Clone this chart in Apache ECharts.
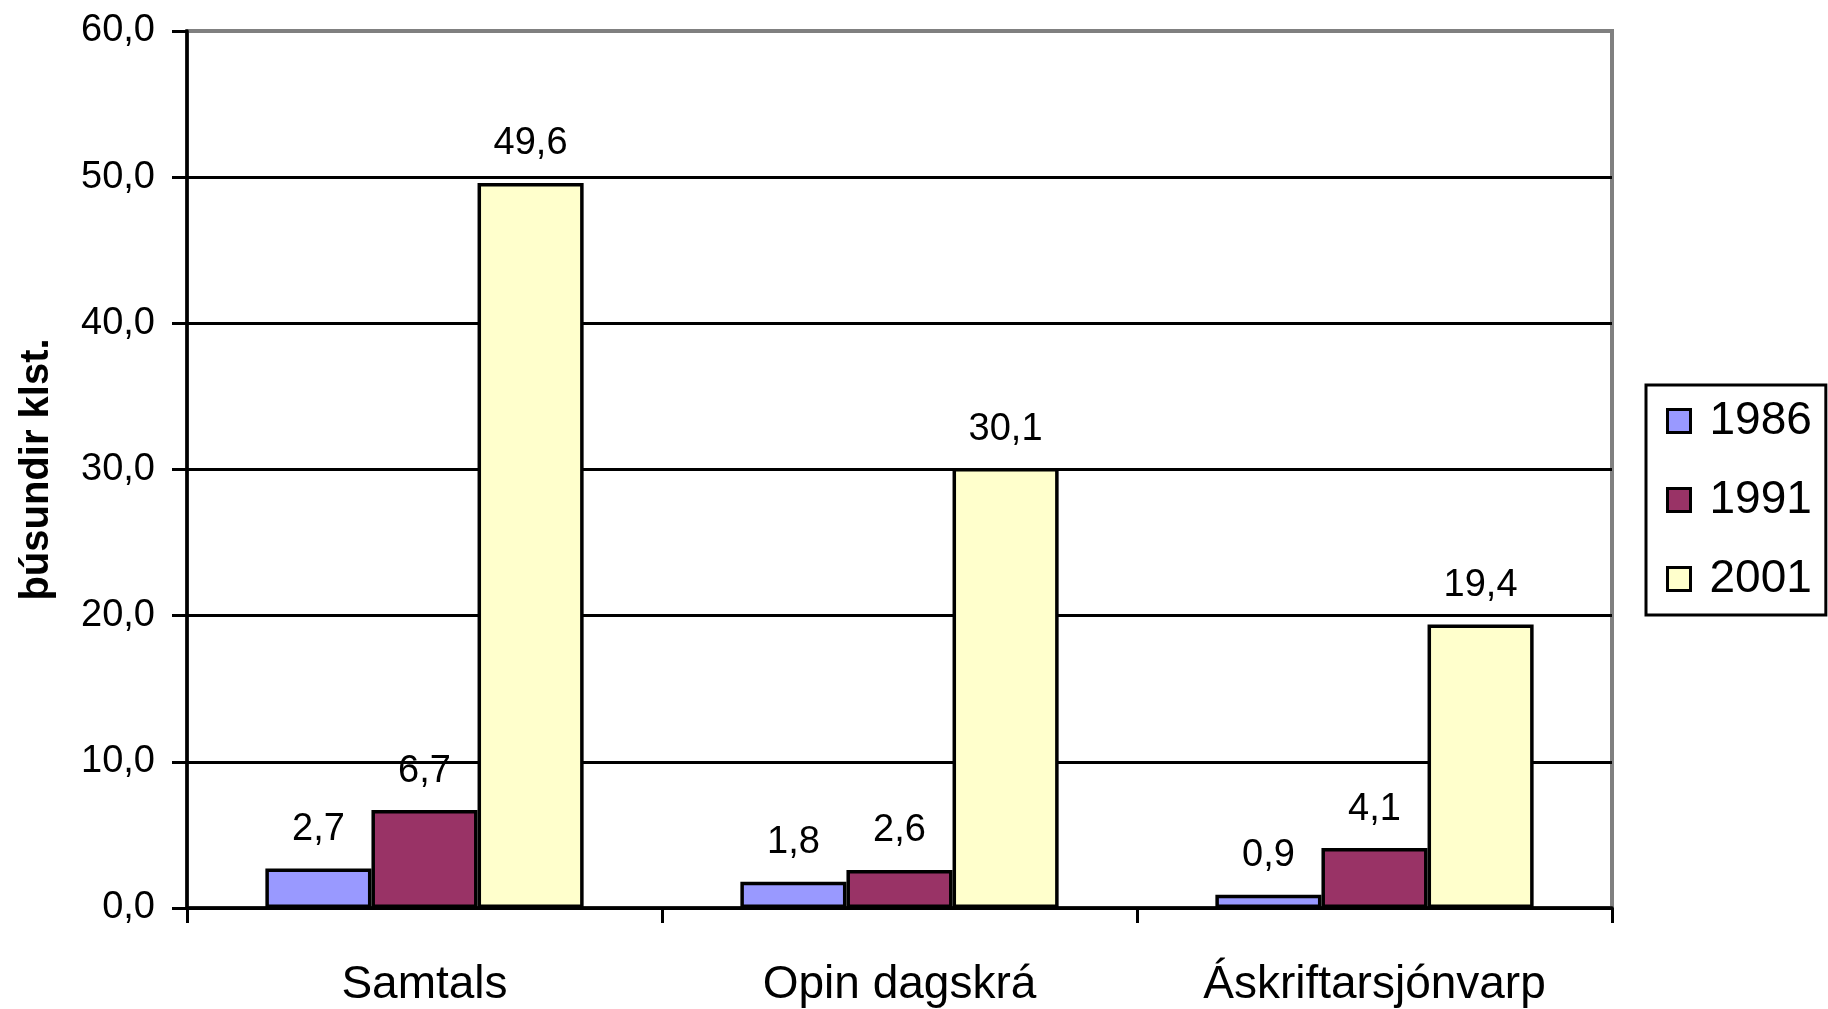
<!DOCTYPE html>
<html>
<head>
<meta charset="utf-8">
<script src="https://cdn.jsdelivr.net/npm/echarts@6/dist/echarts.min.js"></script>
<style>
  html, body { margin: 0; padding: 0; background: #fff; }
  #main { width: 1828px; height: 1009px; }
</style>
</head>
<body>
<div id="main"></div>
<script>
var categories = ['Samtals', 'Opin dagskrá', 'Áskriftarsjónvarp'];
var years = ['1986', '1991', '2001'];
var values1986 = [2.7, 1.8, 0.9];
var values1991 = [6.7, 2.6, 4.1];
var values2001 = [49.6, 30.1, 19.4];
var colors = ['#9999FF', '#993366', '#FFFFCC'];

var font = '"Liberation Sans", Arial, sans-serif';
function comma(v) { return v.toFixed(1).replace('.', ','); }

var myChart = echarts.init(document.getElementById('main'));

function makeSeries(name, data, color) {
    return {
        name: name,
        type: 'bar',
        data: data,
        barGap: '0%',
        barCategoryGap: '33%',
        itemStyle: { color: color, borderColor: '#000', borderWidth: 3.5 },
        label: {
            show: true,
            position: 'top',
            distance: 20,
            fontFamily: font,
            fontSize: 38,
            color: '#000',
            formatter: function (p) { return comma(p.value); }
        }
    };
}

var option = {
    animation: false,
    grid: {
        left: 187, right: 216, top: 31, bottom: 101,
        show: true,
        borderColor: '#808080',
        borderWidth: 4
    },
    legend: {
        orient: 'vertical',
        left: 1646,
        top: 385,
        padding: [13, 14, 13, 20],
        itemGap: 33,
        itemWidth: 23,
        itemHeight: 23,
        icon: 'rect',
        borderColor: '#000',
        borderWidth: 3,
        data: years,
        itemStyle: { borderColor: '#000', borderWidth: 3 },
        textStyle: { fontFamily: font, fontSize: 46, color: '#000', padding: [0, 0, 0, 14] }
    },
    xAxis: {
        type: 'category',
        data: categories,
        axisLine: { lineStyle: { color: '#000', width: 3.5 } },
        axisTick: { show: true, length: 15, lineStyle: { color: '#000', width: 3 } },
        axisLabel: { fontFamily: font, fontSize: 46, color: '#000', margin: 54 }
    },
    yAxis: {
        type: 'value',
        min: 0,
        max: 60,
        interval: 10,
        name: 'þúsundir klst.',
        nameLocation: 'middle',
        nameRotate: 90,
        nameGap: 130,
        nameTextStyle: { fontFamily: font, fontSize: 40, fontWeight: 'bold', color: '#000' },
        axisLine: { show: true, lineStyle: { color: '#000', width: 3.5 } },
        axisTick: { show: true, length: 15, lineStyle: { color: '#000', width: 3 } },
        axisLabel: {
            fontFamily: font, fontSize: 38, color: '#000', margin: 32,
            formatter: function (v) { return comma(v); }
        },
        splitLine: {
            show: true,
            lineStyle: { color: ['#000', '#000', '#000', '#000', '#000', '#000', '#808080'], width: 3 }
        }
    },
    series: [
        makeSeries(years[0], values1986, colors[0]),
        makeSeries(years[1], values1991, colors[1]),
        makeSeries(years[2], values2001, colors[2])
    ]
};

myChart.setOption(option);
</script>
</body>
</html>
